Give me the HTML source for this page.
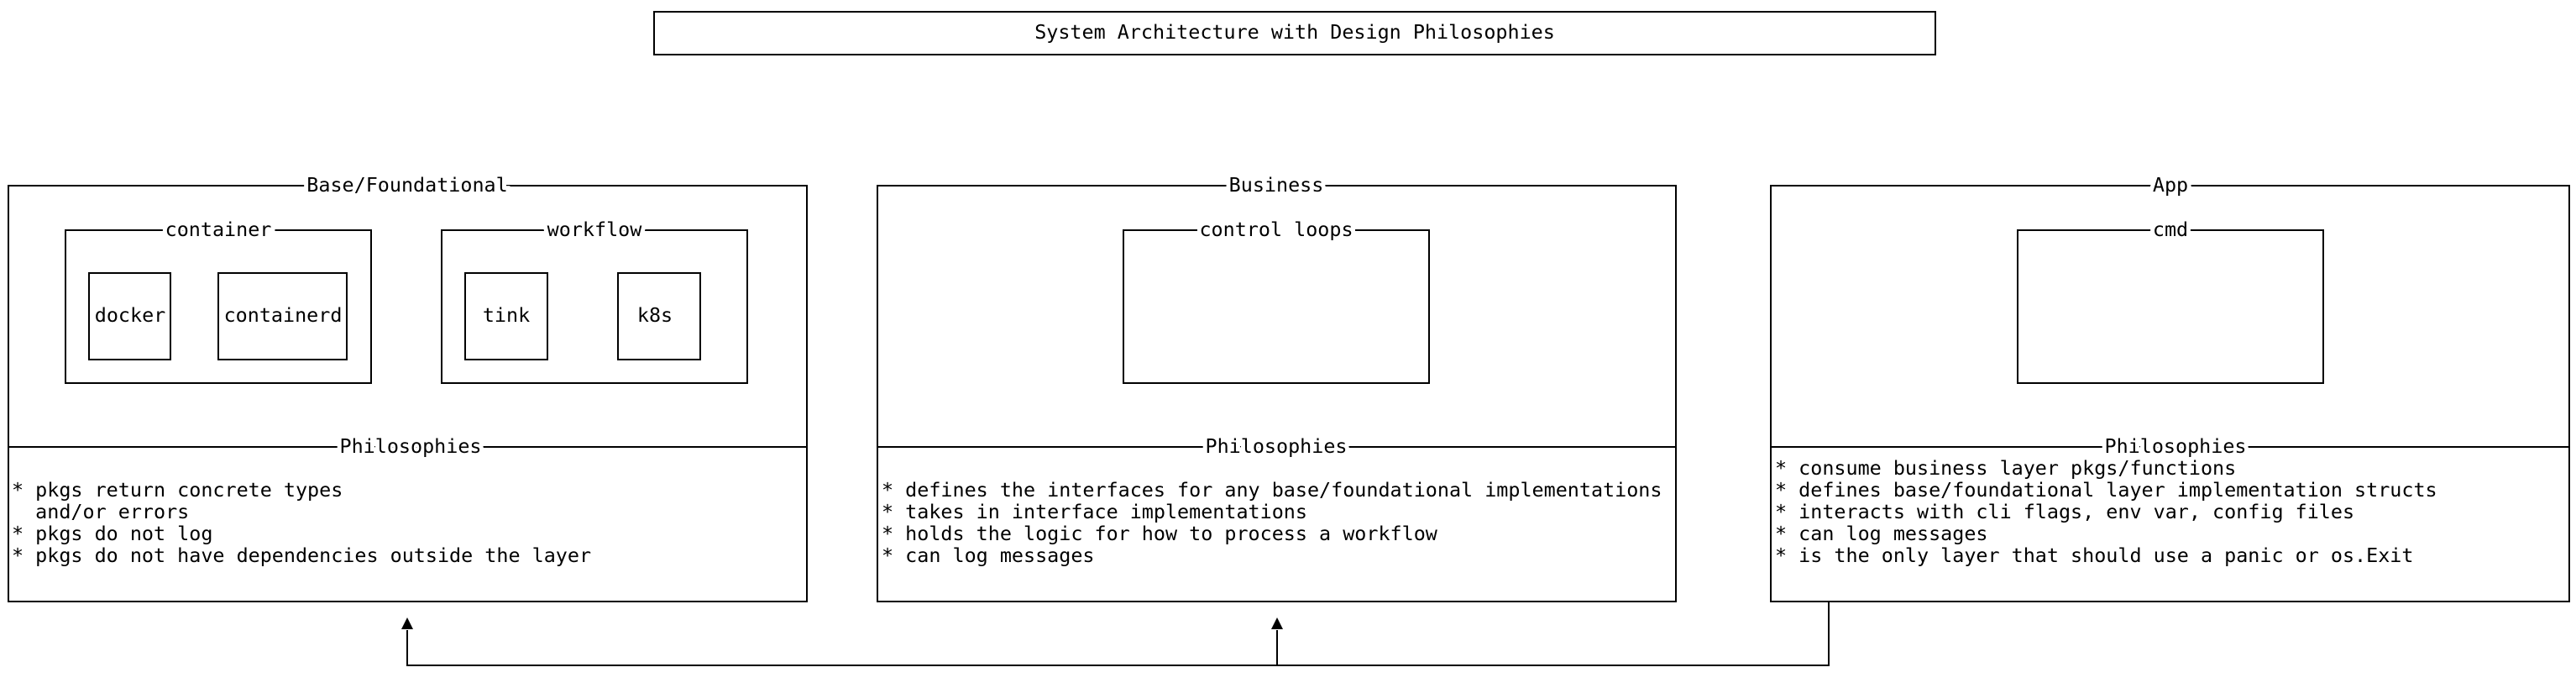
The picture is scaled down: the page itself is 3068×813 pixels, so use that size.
<!DOCTYPE html>
<html><head><meta charset="utf-8"><style>
html,body{margin:0;padding:0;background:#fff}
body{width:3068px;height:808px;overflow:hidden}
</style></head><body>
<svg width="3068" height="808" xmlns="http://www.w3.org/2000/svg" font-family="DejaVu Sans Mono, Liberation Mono, monospace" font-size="23.4" fill="none" stroke="#000" stroke-width="2">
<rect x="779" y="14" width="1526" height="51"/>
<text x="1542" y="46" text-anchor="middle" fill="#000" stroke="none">System Architecture with Design Philosophies</text>

<!-- Base -->
<rect x="10" y="221" width="951" height="495"/>
<line x1="10" y1="532" x2="961" y2="532"/>
<rect x="78" y="274" width="364" height="182"/>
<rect x="526" y="274" width="364" height="182"/>
<rect x="106" y="325" width="97" height="103"/>
<rect x="260" y="325" width="153" height="103"/>
<rect x="554" y="325" width="98" height="103"/>
<rect x="736" y="325" width="98" height="103"/>
<!-- Business -->
<rect x="1045" y="221" width="951" height="495"/>
<line x1="1045" y1="532" x2="1996" y2="532"/>
<rect x="1338" y="274" width="364" height="182"/>
<rect x="1426" y="268" width="188" height="14" fill="#fff" stroke="none"/>
<!-- App -->
<rect x="2109" y="221" width="951" height="495"/>
<line x1="2109" y1="532" x2="3060" y2="532"/>
<rect x="2403" y="274" width="364" height="182"/>

<!-- connectors -->
<polyline points="2178,716 2178,792 485,792 485,750"/>
<line x1="1521" y1="792" x2="1521" y2="750"/>
<polygon points="485,735 478,749 492,749" fill="#000" stroke="none"/>
<polygon points="1521,735 1514,749 1528,749" fill="#000" stroke="none"/>

<g fill="#000" stroke="none">
<g text-anchor="middle">
<text x="485" y="228" stroke="#fff" stroke-width="10">Base/Foundational</text>
<text x="485" y="228">Base/Foundational</text>
<text x="1520" y="228" stroke="#fff" stroke-width="10">Business</text>
<text x="1520" y="228">Business</text>
<text x="2585" y="228" stroke="#fff" stroke-width="10">App</text>
<text x="2585" y="228">App</text>
<text x="260" y="281" stroke="#fff" stroke-width="10">container</text>
<text x="260" y="281">container</text>
<text x="708" y="281" stroke="#fff" stroke-width="10">workflow</text>
<text x="708" y="281">workflow</text>
<text x="1520" y="281">control loops</text>
<text x="2585" y="281" stroke="#fff" stroke-width="10">cmd</text>
<text x="2585" y="281">cmd</text>
<text x="489" y="539" stroke="#fff" stroke-width="10">Philosophies</text>
<text x="489" y="539">Philosophies</text>
<text x="1520" y="539" stroke="#fff" stroke-width="10">Philosophies</text>
<text x="1520" y="539">Philosophies</text>
<text x="2591" y="539" stroke="#fff" stroke-width="10">Philosophies</text>
<text x="2591" y="539">Philosophies</text>
<text x="155" y="383">docker</text>
<text x="337" y="383">containerd</text>
<text x="603" y="383">tink</text>
<text x="780" y="383">k8s</text>
</g>
<text x="14" y="591" xml:space="preserve">* pkgs return concrete types</text>
<text x="14" y="617" xml:space="preserve">  and/or errors</text>
<text x="14" y="643">* pkgs do not log</text>
<text x="14" y="669">* pkgs do not have dependencies outside the layer</text>
<text x="1050" y="591">* defines the interfaces for any base/foundational implementations</text>
<text x="1050" y="617">* takes in interface implementations</text>
<text x="1050" y="643">* holds the logic for how to process a workflow</text>
<text x="1050" y="669">* can log messages</text>
<text x="2114" y="565">* consume business layer pkgs/functions</text>
<text x="2114" y="591">* defines base/foundational layer implementation structs</text>
<text x="2114" y="617">* interacts with cli flags, env var, config files</text>
<text x="2114" y="643">* can log messages</text>
<text x="2114" y="669">* is the only layer that should use a panic or os.Exit</text>
</g>
</svg>
</body></html>
